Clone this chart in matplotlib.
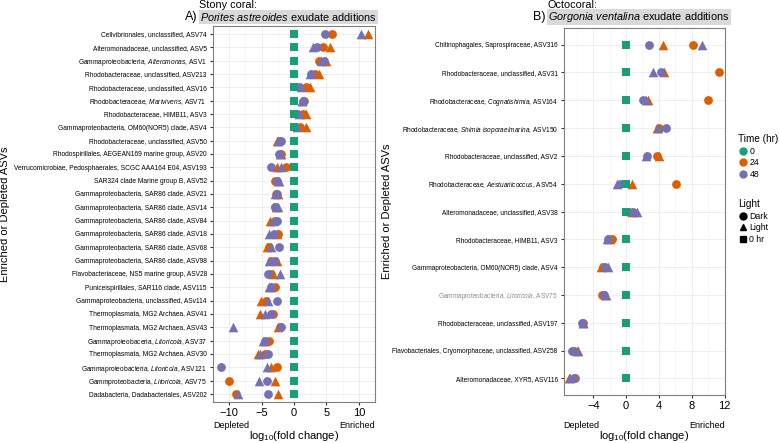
import matplotlib
matplotlib.use("Agg")
import matplotlib.pyplot as plt
from matplotlib.lines import Line2D
import re

plt.rcParams["font.family"] = ["Liberation Sans", "DejaVu Sans"]
plt.rcParams["mathtext.fontset"] = "custom"
plt.rcParams["mathtext.rm"] = "Liberation Sans"
plt.rcParams["mathtext.it"] = "Liberation Sans:italic"

GREEN, ORANGE, PURPLE = "#1B9E77", "#D95F02", "#7570B3"

# ---- panel A: Porites astreoides ----
labels_a = [
    "Cellvibrionales, unclassified, ASV74",
    "Alteromonadaceae, unclassified, ASV5",
    "Gammaproteobacteria, *Alteromonas*, ASV1",
    "Rhodobacteraceae, unclassified, ASV213",
    "Rhodobacteraceae, unclassified, ASV16",
    "Rhodobacteraceae, *Marivivens*, ASV71",
    "Rhodobacteraceae, HIMB11, ASV3",
    "Gammaproteobacteria, OM60(NOR5) clade, ASV4",
    "Rhodobacteraceae, unclassified, ASV50",
    "Rhodospirillales, AEGEAN169 marine group, ASV20",
    "Verrucomicrobiae, Pedosphaerales, SCGC AAA164 E04, ASV193",
    "SAR324 clade Marine group B, ASV52",
    "Gammaproteobacteria, SAR86 clade, ASV21",
    "Gammaproteobacteria, SAR86 clade, ASV14",
    "Gammaproteobacteria, SAR86 clade, ASV84",
    "Gammaproteobacteria, SAR86 clade, ASV18",
    "Gammaproteobacteria, SAR86 clade, ASV68",
    "Gammaproteobacteria, SAR86 clade, ASV98",
    "Flavobacteriaceae, NS5 marine group, ASV28",
    "Puniceispirillales, SAR116 clade, ASV115",
    "Gammaproteobacteria, unclassified, ASv114",
    "Thermoplasmata, MG2 Archaea, ASV41",
    "Thermoplasmata, MG2 Archaea, ASV43",
    "Gammaproteobaceria, *Litoricola*, ASV37",
    "Thermoplasmata, MG2 Archaea, ASV30",
    "Gammaproteobacteria, *Litoricola*, ASV121",
    "Gammproteobacteria, *Litoricola*, ASV75",
    "Dadabacteria, Dadabacteriales, ASV202",
]
a_24_dark = [5.9, 4.4, 3.8, 3.2, 1.8, 1.5, 1.4, 1.0, -2.2, -2.0, -1.3, -3.0, -2.8, -2.9,
             -3.0, -2.5, -3.8, -3.5, -3.5, -3.0, -4.3, -3.2, -2.2, -3.9, -4.5, -2.7, -10.1, -9.0]
a_24_light = [11.4, 5.5, 4.9, 3.8, 2.4, 1.3, 1.8, 1.8, -2.7, -2.0, -2.6, -2.5, -2.4, -2.8,
              -3.7, -2.7, -4.2, -2.7, -3.2, -3.6, -5.1, -5.2, -2.5, -4.5, -5.6, -3.5, -3.0, -2.5]
a_48_dark = [4.75, 3.6, 4.6, 2.7, 0.8, 1.4, 0.4, 0.1, -2.0, -2.3, -3.5, -2.6, -2.7, -3.0,
             -2.6, -3.1, -2.3, -3.0, -4.0, -3.5, -2.7, -3.5, -2.0, -4.4, -4.0, -11.3, -4.2, -4.0]
a_48_light = [10.4, 2.9, 4.2, 2.4, 1.1, 1.2, 0.8, 0.5, -2.5, -2.2, -2.0, -2.3, -3.0, -2.5,
              -3.2, -3.9, -3.6, -3.9, -2.2, -3.8, -4.0, -4.5, -9.4, -4.8, -5.3, -4.2, -5.4, -8.7]

# ---- panel B: Gorgonia ventalina ----
labels_b = [
    "Chitinophagales, Saprospiraceae, ASV316",
    "Rhodobacteraceae, unclassified, ASV31",
    "Rhodobacteraceae, *Cognatishimia*, ASV164",
    "Rhodobacteraceae, *Shimia isoporae/marina*, ASV150",
    "Rhodobacteraceae, unclassified, ASV2",
    "Rhodobacteraceae, *Aestuariicoccus*, ASV54",
    "Alteromonadaceae, unclassified, ASV38",
    "Rhodobacteraceae, HIMB11, ASV3",
    "Gammaproteobacteria, OM60(NOR5) clade, ASV4",
    "Gammaproteobacteria, *Litoricola*, ASV75",
    "Rhodobacteraceae, unclassified, ASV197",
    "Flavobacteriales, Cryomorphaceae, unclassified, ASV258",
    "Alteromonadaceae, XYR5, ASV116",
]
b_24_dark = [8.2, 11.3, 10.0, 4.05, 3.75, 6.1, 0.4, -1.75, -2.75, -2.95, -5.3, -6.4, -6.2]
b_24_light = [4.55, 4.6, 2.7, 3.75, 4.05, 0.7, 0.7, -1.95, -3.1, -2.45, -5.2, -5.8, -7.0]
b_48_dark = [2.85, 4.2, 2.1, 4.85, 2.5, -0.75, 0.9, -2.15, -2.55, -2.7, -5.4, -6.55, -6.4]
b_48_light = [9.2, 3.25, 2.45, 3.95, 2.45, -1.05, 1.3, -2.35, -2.15, -2.55, -5.3, -6.0, -6.8]


def fmt(lbl):
    # *text* -> italic mathtext
    return re.sub(r"\*(.+?)\*", lambda m: r"$\it{" + m.group(1).replace(" ", r"\ ") + "}$", lbl)


def panel(ax, labels, d24, l24, d48, l48, xlim, xticks, minor, fs):
    y = list(range(len(labels)))
    ms = 40
    ax.scatter(d24, y, s=ms, marker="o", color=ORANGE, lw=0, zorder=3)
    ax.scatter(l24, y, s=ms * 1.2, marker="^", color=ORANGE, lw=0, zorder=3)
    ax.scatter(d48, y, s=ms, marker="o", color=PURPLE, lw=0, zorder=3)
    ax.scatter(l48, y, s=ms * 1.2, marker="^", color=PURPLE, lw=0, zorder=3)
    ax.scatter([0] * len(labels), y, s=ms, marker="s", color=GREEN, lw=0, zorder=4)
    ax.set_yticks(y)
    ax.set_yticklabels([fmt(l) for l in labels], fontsize=fs)
    ax.set_ylim(len(labels) - 0.4, -0.6)
    ax.set_xlim(*xlim)
    ax.set_xticks(xticks)
    ax.set_xticks(minor, minor=True)
    ax.set_xticklabels([str(t).replace("-", "\u2212") for t in xticks], fontsize=8)
    ax.grid(True, which="major", color="#ebebeb", lw=0.6)
    ax.grid(True, which="minor", axis="x", color="#f2f2f2", lw=0.4)
    ax.set_axisbelow(True)
    for s in ax.spines.values():
        s.set_color("#7f7f7f")
        s.set_linewidth(0.8)
    ax.tick_params(axis="both", which="major", length=2.5, color="#333333", pad=2)
    ax.tick_params(axis="x", which="minor", length=0)
    ax.set_ylabel("Enriched or Depleted ASVs", fontsize=8)
    ax.set_xlabel(r"log$_{10}$(fold change)", fontsize=8)


W, H = 779, 443
fig = plt.figure(figsize=(W / 100, H / 100), dpi=100)

ax_a = fig.add_axes([213 / W, 1 - 402 / H, 162 / W, 376 / H])
panel(ax_a, labels_a, a_24_dark, a_24_light, a_48_dark, a_48_light,
      (-12.5, 12.5), [-10, -5, 0, 5, 10], [-7.5, -2.5, 2.5, 7.5], 4.8)
ax_a.yaxis.set_label_coords((10 - 213) / 162, 0.5)
ax_a.xaxis.set_label_coords(0.5, -(429 - 402) / 376)

ax_b = fig.add_axes([564 / W, 1 - 395 / H, 161 / W, 367 / H])
panel(ax_b, labels_b, b_24_dark, b_24_light, b_48_dark, b_48_light,
      (-7.56, 12.05), [-4, 0, 4, 8, 12], [-6, -2, 2, 6, 10], 4.7)
ax_b.get_yticklabels()[9].set_color("#8c8c8c")
ax_b.yaxis.set_label_coords((392 - 564) / 161, 0.5)
ax_b.xaxis.set_label_coords(0.5, -(429 - 395) / 367)

# titles
box = dict(facecolor="#d9d9d9", edgecolor="none", pad=1.0)
fig.text(199 / W, 1 - 0.5 / H, "Stony coral:", fontsize=7.8, va="top", ha="left")
fig.text(197 / W, 1 - 17 / H, "A)", fontsize=9, va="center", ha="right")
fig.text(200 / W, 1 - 17 / H, r"$\it{Porites\ astreoides}$ exudate additions",
         fontsize=7.8, va="center", ha="left", bbox=box)
fig.text(548 / W, 1 - 0.5 / H, "Octocoral:", fontsize=7.8, va="top", ha="left")
fig.text(545 / W, 1 - 17 / H, "B)", fontsize=9, va="center", ha="right")
fig.text(548 / W, 1 - 17 / H, r"$\it{Gorgonia\ ventalina}$ exudate additions",
         fontsize=7.8, va="center", ha="left", bbox=box)

# depleted / enriched hints
for x0, x1 in [(213, 375), (563, 725)]:
    fig.text(x0 / W, 1 - 426 / H, "Depleted", fontsize=6.5, va="center", ha="left")
    fig.text(x1 / W, 1 - 426 / H, "Enriched", fontsize=6.5, va="center", ha="right")

# legends
h_time = [Line2D([], [], marker="o", ls="", color=c, markersize=5) for c in (GREEN, ORANGE, PURPLE)]
h_light = [Line2D([], [], marker=m, ls="", color="black", markersize=5) for m in ("o", "^", "s")]
leg_kw = dict(loc="upper left", frameon=False, fontsize=6.3, title_fontsize=7.2,
              alignment="left", handletextpad=0.1, labelspacing=0.3, borderpad=0,
              borderaxespad=0, handlelength=1.2)
fig.legend(h_time, ["0", "24", "48"], title="Time (hr)",
           bbox_to_anchor=(738 / W, 1 - 134 / H), **leg_kw)
fig.legend(h_light, ["Dark", "Light", "0 hr"], title="Light",
           bbox_to_anchor=(738 / W, 1 - 199 / H), **leg_kw)

fig.savefig("out.png", dpi=100)
